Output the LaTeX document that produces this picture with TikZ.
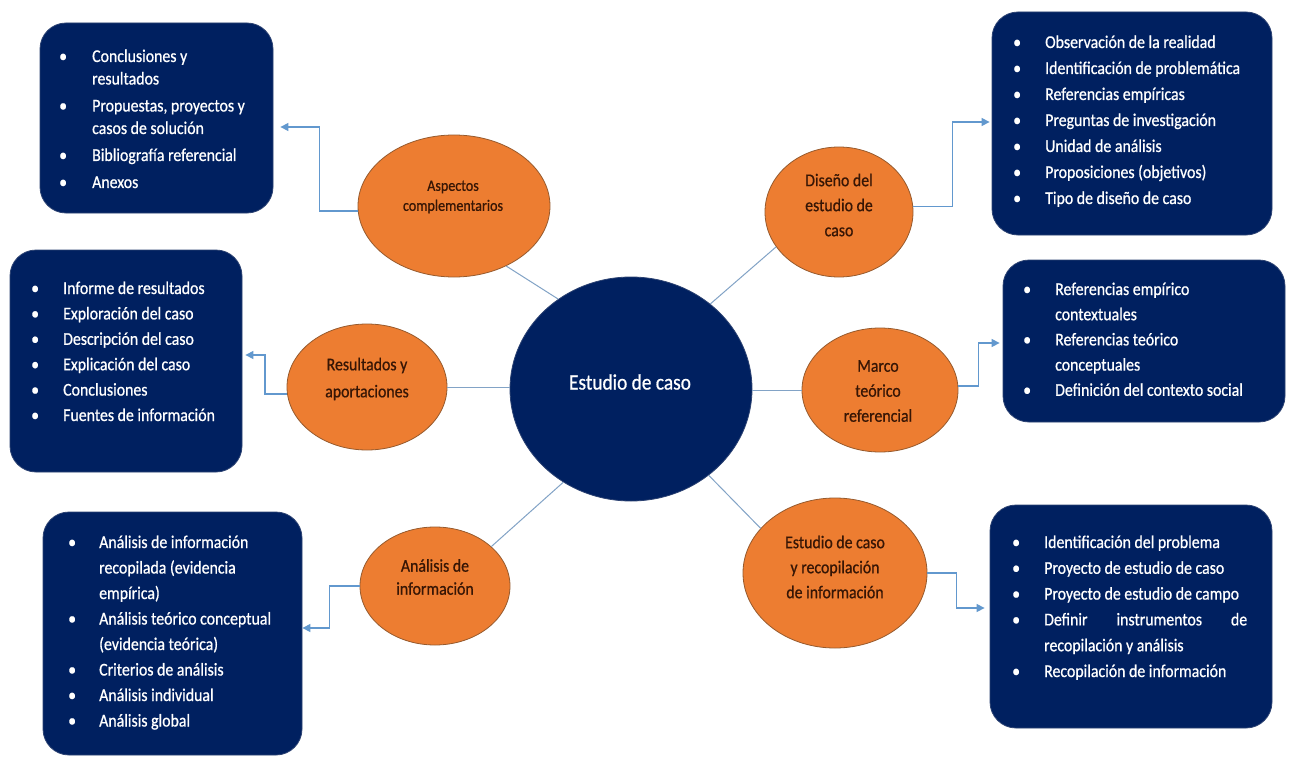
\documentclass[tikz,border=0pt]{standalone}
\usepackage{fontspec}
\setmainfont{Carlito}[FakeStretch=0.88, FakeBold=0.7]
\usetikzlibrary{arrows.meta,shapes.geometric}

\definecolor{navy}{RGB}{0,32,96}
\definecolor{navyedge}{RGB}{44,66,114}
\definecolor{orangefill}{RGB}{237,125,49}
\definecolor{orangeedge}{RGB}{150,90,45}
\definecolor{linkblue}{RGB}{98,152,206}
\definecolor{spokeblue}{RGB}{130,163,198}
\definecolor{ovaltext}{RGB}{55,22,5}

\newlength\bulind
\newcommand\bul{\makebox[\bulind][l]{•}}
\newcommand\cnt{\hspace*{\bulind}}
% bulleted list set in a top-aligned box, so the node's base is the first baseline
\newcommand\bullist[4]{\parbox[t]{#1}{\raggedright\setlength\bulind{#2}\fontsize{18}{#3}\selectfont #4}}

\tikzset{
  panel/.style={draw=navyedge, line width=0.8pt, fill=navy, rounded corners=26pt, inner sep=0pt},
  oval/.style={ellipse, draw=orangeedge, line width=0.8pt, fill=orangefill, inner sep=0pt},
  ovaltxt/.style={align=center, text=ovaltext, inner sep=0pt, font=\fontsize{18}{25}\selectfont},
  listtxt/.style={anchor=base west, inner sep=0pt, text=white},
  spoke/.style={draw=spokeblue, line width=1pt},
  link/.style={draw=linkblue, line width=1.2pt, -{Triangle[length=8pt,width=8pt]}},
}

\begin{document}
\begin{tikzpicture}[x=1pt, y=-1pt]
\useasboundingbox (0,0) rectangle (1290,757);
\fill[white] (0,0) rectangle (1290,757);

% ---- centre ----
\node[ellipse, fill=navy, draw=navyedge, line width=0.8pt, inner sep=0pt,
      minimum width=242pt, minimum height=224pt] (core) at (631,389) {};
\node[text=white, inner sep=0pt, font=\fontsize{22}{26}\selectfont] (core-t) at (630,382) {Estudio de caso};

% ---- orange topics ----
\node[oval, minimum width=192pt, minimum height=142pt] (asp) at (454,206) {};
\node[ovaltxt, font=\fontsize{16}{20}\selectfont] (asp-t) at (453,197) {Aspectos\\complementarios};

\node[oval, minimum width=160pt, minimum height=126pt] (res) at (367,387) {};
\node[ovaltxt, font=\fontsize{18}{27}\selectfont] (res-t) at (367,379) {Resultados y\\aportaciones};

\node[oval, minimum width=150pt, minimum height=118pt] (ana) at (435,586) {};
\node[ovaltxt, font=\fontsize{18}{23}\selectfont] (ana-t) at (435,577) {Análisis de\\información};

\node[oval, minimum width=148pt, minimum height=130pt] (dis) at (839,212) {};
\node[ovaltxt] (dis-t) at (839,205) {Diseño del\\estudio de\\caso};

\node[oval, minimum width=156pt, minimum height=124pt] (mar) at (880,390) {};
\node[ovaltxt] (mar-t) at (878,391) {Marco\\teórico\\referencial};

\node[oval, minimum width=184pt, minimum height=150pt] (est) at (835,573) {};
\node[ovaltxt] (est-t) at (835,567) {Estudio de caso\\y recopilación\\de información};

% ---- blue panels ----
\node[panel, minimum width=233pt, minimum height=190pt] (tl) at (156.5,118) {};
\node[panel, minimum width=232pt, minimum height=222pt] (ml) at (126,361) {};
\node[panel, minimum width=259pt, minimum height=243pt] (bl) at (172.5,633.5) {};
\node[panel, minimum width=280pt, minimum height=223pt] (tr) at (1132,123.5) {};
\node[panel, minimum width=282pt, minimum height=162pt] (mr) at (1144,341) {};
\node[panel, minimum width=282pt, minimum height=223pt] (br) at (1131,616.5) {};

% ---- panel texts ----
\node[listtxt] (tl-t) at (59,62) {\bullist{220pt}{33pt}{22.5}{%
\bul Conclusiones y\\
\cnt resultados\\[4.5pt]
\bul Propuestas, proyectos y\\
\cnt casos de solución\\[4.5pt]
\bul Bibliografía referencial\\[4.5pt]
\bul Anexos}};

\node[listtxt] (ml-t) at (31,294) {\bullist{220pt}{32pt}{25.4}{%
\bul Informe de resultados\\
\bul Exploración del caso\\
\bul Descripción del caso\\
\bul Explicación del caso\\
\bul Conclusiones\\
\bul Fuentes de información}};

\node[listtxt] (bl-t) at (68,548) {\bullist{230pt}{31pt}{25.5}{%
\bul Análisis de información\\
\cnt recopilada (evidencia\\
\cnt empírica)\\
\bul Análisis teórico conceptual\\
\cnt (evidencia teórica)\\
\bul Criterios de análisis\\
\bul Análisis individual\\
\bul Análisis global}};

\node[listtxt] (tr-t) at (1013,48) {\bullist{250pt}{32pt}{26}{%
\bul Observación de la realidad\\
\bul Identificación de problemática\\
\bul Referencias empíricas\\
\bul Preguntas de investigación\\
\bul Unidad de análisis\\
\bul Proposiciones (objetivos)\\
\bul Tipo de diseño de caso}};

\node[listtxt] (mr-t) at (1023,295) {\bullist{250pt}{32pt}{25.2}{%
\bul Referencias empírico\\
\cnt contextuales\\
\bul Referencias teórico\\
\cnt conceptuales\\
\bul Definición del contexto social}};

\node[listtxt] (br-t) at (1012,548) {\bullist{235pt}{32pt}{25.8}{%
\bul Identificación del problema\\
\bul Proyecto de estudio de caso\\
\bul Proyecto de estudio de campo\\
\bul Definir\hfill instrumentos\hfill de\\
\cnt recopilación y análisis\\
\bul Recopilación de información}};

% ---- spokes from the centre ----
\draw[spoke] (asp.-49.5) -- (core.129);
\draw[spoke] (res.east) -- (res.east -| core.west);
\draw[spoke] (ana.35.6) -- (core.234.3);
\draw[spoke] (dis.209.4) -- (core.47.7);
\draw[spoke] (mar.west) -- (mar.west -| core.east);
\draw[spoke] (est.149.7) -- (core.-48.1);

% ---- elbow arrows to the panels ----
\draw[link, shorten >=7pt] (asp.183) -- ++(-38,0) |- ([yshift=-9pt]tl.east);
\draw[link, shorten >=3pt] (res.185) -- ++(-22,0) |- ([yshift=6pt]ml.east);
\draw[link] (ana.west) -- ++(-30,0) |- ([yshift=5.5pt]bl.east);
\draw[link, shorten >=2pt] (dis.4) -- ++(39,0) |- ([yshift=1.5pt]tr.west);
\draw[link, shorten >=3pt] (mar.3) -- ++(20,0) |- ([yshift=-2pt]mr.west);
\draw[link, shorten >=5pt] (est.east) -- ++(29,0) |- ([yshift=8.5pt]br.west);
\end{tikzpicture}
\end{document}
